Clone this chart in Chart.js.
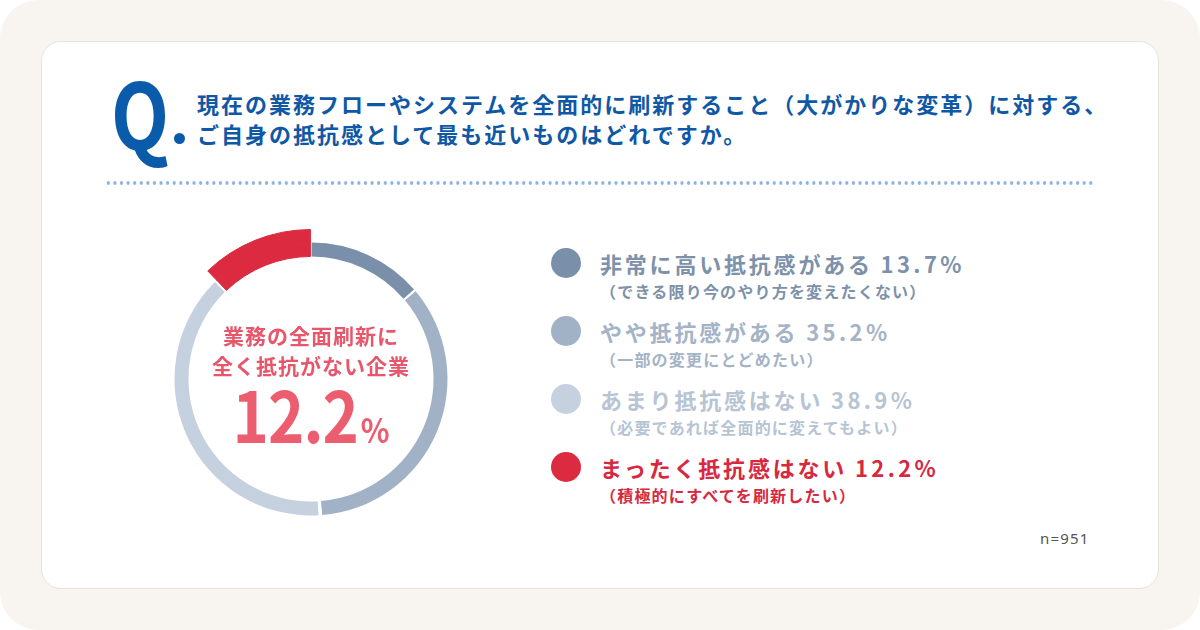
<!DOCTYPE html>
<html lang="ja">
<head>
<meta charset="utf-8">
<script src="https://cdn.jsdelivr.net/npm/chart.js@4.4.1/dist/chart.umd.min.js"></script>
<style>
    html, body { margin: 0; padding: 0; background: #ffffff; }
    body { width: 1200px; height: 630px; overflow: hidden; font-family: "Noto Sans CJK JP", "Noto Sans", sans-serif; }
    #frame { position: absolute; left: 0; top: 0; width: 1200px; height: 630px; background: #f8f5f1; border-radius: 38px; }
    #card { position: absolute; left: 41px; top: 41px; width: 1116px; height: 546px; background: #fff; border: 1.5px solid #e8e2dc; border-radius: 20px; }
    .abs { position: absolute; }
    #q { left: 111px; top: 64px; font-size: 92px; font-weight: 700; color: #0b5bab; line-height: 1; transform: scaleX(0.82); transform-origin: left top; }
    #qdot { left: 174px; top: 133px; width: 11px; height: 11px; border-radius: 50%; background: #0b5bab; }
    #title { left: 197px; top: 88px; font-size: 22px; font-weight: 700; color: #0f58a5; line-height: 30px; letter-spacing: 2px; white-space: nowrap; }
    #dots { left: 105px; top: 181px; width: 990px; height: 4px;
        background-image: radial-gradient(circle, #8db4e0 1.5px, transparent 2px);
        background-size: 6.6px 4px; }
    #donut { left: 151px; top: 219px; }
    #center { left: 171px; top: 320px; width: 280px; text-align: center; color: #e8566b; font-weight: 700; }
    #center .line { font-size: 21px; line-height: 30px; letter-spacing: 1px; }
    #center .big { font-size: 70px; line-height: 56px; margin-top: 5px; letter-spacing: -1px; color: #ec5d70; transform: scaleX(0.88); transform-origin: 50% 50%; }
    #center .big span { font-size: 34px; letter-spacing: 0; margin-left: 3px; }
    #legend { left: 551px; top: 248px; }
    .row { position: relative; height: 56px; margin-bottom: 12px; }
    .row .dot { position: absolute; left: 0; top: 0; width: 30px; height: 30px; border-radius: 50%; }
    .row .main { position: absolute; left: 49px; top: 0; font-size: 22px; font-weight: 700; line-height: 30px; letter-spacing: 2.8px; white-space: nowrap; }
    .row .main span { letter-spacing: 3.4px; }
    .row .sub { position: absolute; left: 49px; top: 30px; font-size: 16px; font-weight: 700; line-height: 26px; letter-spacing: 1.2px; white-space: nowrap; }
    #n { left: 1040px; top: 528px; font-family: "Noto Sans", sans-serif; font-size: 15px; color: #555; letter-spacing: 1.2px; }
</style>
</head>
<body>
<div id="frame"></div>
<div id="card"></div>
<div id="q" class="abs">Q</div>
<div id="qdot" class="abs"></div>
<div id="title" class="abs"></div>
<div id="dots" class="abs"></div>
<canvas id="donut" class="abs" width="320" height="320"></canvas>
<div id="center" class="abs"></div>
<div id="legend" class="abs"></div>
<div id="n" class="abs"></div>
<script>
// Chart data
const questionLines = [
    '現在の業務フローやシステムを全面的に刷新すること（大がかりな変革）に対する、',
    'ご自身の抵抗感として最も近いものはどれですか。'
];
const categories = ['非常に高い抵抗感がある', 'やや抵抗感がある', 'あまり抵抗感はない', 'まったく抵抗感はない'];
const subLabels = ['（できる限り今のやり方を変えたくない）', '（一部の変更にとどめたい）', '（必要であれば全面的に変えてもよい）', '（積極的にすべてを刷新したい）'];
const shares = [13.7, 35.2, 38.9, 12.2];
const highlightIndex = 3;
const centerLines = ['業務の全面刷新に', '全く抵抗がない企業'];
const sampleSize = 951;

// Colours
const sliceColors = ['#7a8fa9', '#a2b2c6', '#c5d1de', '#dc2a41'];
const labelColors = ['#7d91aa', '#a4b3c6', '#b6c4d3', '#d7283f'];

document.addEventListener('DOMContentLoaded', function() {
    // Title
    document.getElementById('title').innerHTML = questionLines.join('<br>');

    // Centre text
    const hv = shares[highlightIndex].toFixed(1);
    document.getElementById('center').innerHTML =
        centerLines.map(t => `<div class="line">${t}</div>`).join('') +
        `<div class="big">${hv}<span>%</span></div>`;

    // Legend
    const legend = document.getElementById('legend');
    categories.forEach((cat, i) => {
        const row = document.createElement('div');
        row.className = 'row';
        row.innerHTML =
            `<div class="dot" style="background:${sliceColors[i]}"></div>` +
            `<div class="main" style="color:${labelColors[i]}">${cat} <span>${shares[i].toFixed(1)}%</span></div>` +
            `<div class="sub" style="color:${labelColors[i]}">${subLabels[i]}</div>`;
        legend.appendChild(row);
    });

    document.getElementById('n').textContent = 'n=' + sampleSize;

    // Donut: outer ring only carries the highlighted slice, so it looks thicker
    const outerColors = shares.map((v, i) => i === highlightIndex ? sliceColors[i] : 'rgba(0,0,0,0)');
    const borderW = shares.map((v, i) => i === highlightIndex ? 1 : 0);

    new Chart(document.getElementById('donut').getContext('2d'), {
        type: 'doughnut',
        data: {
            labels: categories,
            datasets: [{
                data: shares,
                backgroundColor: outerColors,
                borderColor: outerColors,
                borderWidth: borderW,
                weight: 13
            }, {
                data: shares,
                backgroundColor: sliceColors,
                borderColor: sliceColors,
                borderWidth: borderW,
                weight: 14
            }]
        },
        options: {
            responsive: false,
            animation: false,
            events: [],
            radius: 148,
            cutout: '81.76%',
            spacing: 3,
            layout: { padding: 0 },
            plugins: {
                legend: { display: false },
                tooltip: { enabled: false }
            }
        }
    });
});
</script>
</body>
</html>
